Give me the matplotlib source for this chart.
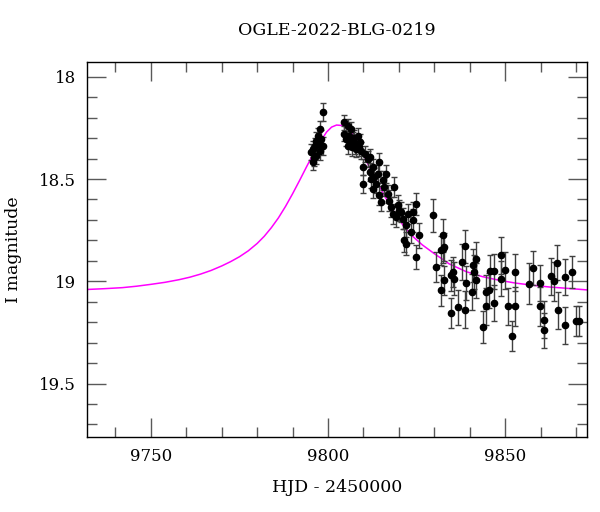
import matplotlib
matplotlib.use("Agg")
import matplotlib.pyplot as plt
from matplotlib.ticker import MultipleLocator

# observed photometry (HJD - 2450000, I mag, error)
hjd = [9798.5, 9797.6, 9797.1, 9796.7, 9796.2, 9795.7, 9795.3, 9795.7, 9798.5, 9798.1,
       9797.6, 9796.5, 9804.6, 9805.6, 9806.5, 9804.6, 9805.1, 9806.1, 9807.0, 9805.6,
       9807.5, 9808.4, 9808.9, 9807.9, 9809.4, 9810.3, 9809.8, 9809.8, 9811.2, 9811.7,
       9812.2, 9812.6, 9813.6, 9814.5, 9811.7, 9812.6, 9813.1, 9814.5, 9814.0, 9815.4,
       9816.4, 9815.9, 9815.0, 9816.8, 9817.3, 9818.7, 9817.8, 9818.3, 9819.7, 9820.1,
       9820.6, 9819.2, 9821.1, 9822.5, 9822.0, 9823.9, 9824.8, 9823.9, 9823.4, 9821.5,
       9822.0, 9825.8, 9824.8, 9829.5, 9831.9, 9832.3, 9830.5, 9832.8, 9832.3, 9831.9,
       9832.8, 9834.7, 9835.2, 9835.6, 9834.7, 9836.6, 9837.8, 9838.7, 9838.9, 9838.7,
       9840.8, 9841.3, 9841.7, 9840.6, 9841.7, 9843.8, 9844.7, 9844.7, 9845.5, 9845.8,
       9846.9, 9846.7, 9848.8, 9848.8, 9849.9, 9850.8, 9851.8, 9852.8, 9852.8, 9856.8,
       9857.7, 9859.9, 9859.9, 9860.8, 9860.8, 9862.9, 9863.8, 9864.7, 9864.9, 9866.8,
       9866.8, 9868.8, 9869.9, 9870.8, 9796.0, 9797.2, 9805.9, 9806.8, 9807.3, 9808.6]
mag = [18.171, 18.255, 18.288, 18.312, 18.337, 18.353, 18.369, 18.418, 18.337, 18.302,
       18.361, 18.385, 18.223, 18.239, 18.254, 18.278, 18.302, 18.320, 18.312, 18.337,
       18.337, 18.288, 18.320, 18.353, 18.361, 18.377, 18.442, 18.523, 18.401, 18.467,
       18.498, 18.548, 18.523, 18.580, 18.394, 18.442, 18.491, 18.418, 18.475, 18.507,
       18.475, 18.540, 18.613, 18.572, 18.605, 18.540, 18.638, 18.670, 18.629, 18.654,
       18.662, 18.686, 18.694, 18.670, 18.727, 18.662, 18.621, 18.702, 18.760, 18.800,
       18.816, 18.776, 18.881, 18.678, 18.849, 18.840, 18.930, 18.833, 18.776, 19.044,
       18.995, 18.971, 18.955, 18.987, 19.155, 19.128, 18.906, 18.829, 19.008, 19.138,
       18.922, 18.955, 18.995, 19.052, 18.889, 19.223, 19.052, 19.122, 19.044, 18.951,
       18.951, 19.106, 18.873, 18.987, 18.946, 19.122, 19.268, 18.955, 19.122, 19.011,
       18.935, 19.008, 19.122, 19.187, 19.239, 18.976, 19.000, 18.909, 19.141, 18.979,
       19.215, 18.955, 19.194, 19.194, 18.395, 18.330, 18.290, 18.345, 18.300, 18.345]
err = [0.045, 0.040, 0.040, 0.040, 0.040, 0.040, 0.040, 0.040, 0.045, 0.040,
       0.045, 0.040, 0.035, 0.035, 0.035, 0.035, 0.035, 0.035, 0.040, 0.040,
       0.040, 0.040, 0.040, 0.040, 0.040, 0.040, 0.040, 0.045, 0.040, 0.045,
       0.045, 0.045, 0.045, 0.045, 0.040, 0.040, 0.045, 0.045, 0.045, 0.045,
       0.045, 0.045, 0.045, 0.045, 0.050, 0.050, 0.050, 0.050, 0.050, 0.050,
       0.050, 0.050, 0.050, 0.050, 0.055, 0.050, 0.055, 0.055, 0.055, 0.055,
       0.055, 0.060, 0.060, 0.080, 0.070, 0.070, 0.075, 0.070, 0.080, 0.075,
       0.070, 0.075, 0.075, 0.080, 0.075, 0.085, 0.090, 0.080, 0.085, 0.090,
       0.080, 0.085, 0.085, 0.090, 0.080, 0.080, 0.085, 0.090, 0.085, 0.080,
       0.085, 0.090, 0.090, 0.085, 0.090, 0.090, 0.075, 0.090, 0.095, 0.100,
       0.085, 0.090, 0.095, 0.090, 0.085, 0.090, 0.095, 0.085, 0.090, 0.090,
       0.090, 0.080, 0.075, 0.075, 0.040, 0.040, 0.035, 0.040, 0.040, 0.040]

# model light curve
model_hjd = [9732.0, 9737.0, 9742.0, 9746.0, 9750.0, 9754.0, 9758.0, 9761.0, 9764.0,
             9767.0, 9770.0, 9772.5, 9775.0, 9777.5, 9780.0, 9782.0, 9784.0, 9786.0,
             9788.0, 9790.0, 9792.0, 9794.0, 9796.0, 9798.0, 9799.6, 9801.0, 9802.4,
             9803.8, 9805.2, 9806.6, 9808.0, 9809.8, 9811.7, 9814.0, 9816.5, 9818.8,
             9821.0, 9823.5, 9826.6, 9830.0, 9834.2, 9839.0, 9843.5, 9848.3, 9853.0,
             9857.6, 9862.5, 9867.2, 9873.0]
model_mag = [19.040, 19.036, 19.031, 19.024, 19.015, 19.005, 18.992, 18.980, 18.965,
             18.947, 18.925, 18.904, 18.880, 18.851, 18.815, 18.780, 18.738, 18.690,
             18.634, 18.572, 18.506, 18.438, 18.372, 18.312, 18.270, 18.246, 18.236,
             18.238, 18.249, 18.272, 18.310, 18.372, 18.444, 18.520, 18.600, 18.665,
             18.722, 18.774, 18.822, 18.865, 18.915, 18.953, 18.977, 18.995, 19.009,
             19.019, 19.028, 19.034, 19.042]

plt.rcParams['font.family'] = ['DejaVu Serif']

fig = plt.figure(figsize=(6.0, 5.12), dpi=100)
ax = fig.add_axes([0.145, 0.147, 0.833, 0.731])

ax.plot(model_hjd, model_mag, color='#ff00ff', lw=1.1, zorder=1)
ax.errorbar(hjd, mag, yerr=err, fmt='o', color='black', ms=4.5,
            ecolor='0.25', elinewidth=1.0, capsize=2.5, capthick=1.0, zorder=2)

ax.set_xlim(9732, 9873)
ax.set_ylim(19.76, 17.93)
ax.xaxis.set_major_locator(MultipleLocator(50))
ax.xaxis.set_minor_locator(MultipleLocator(10))
ax.yaxis.set_major_locator(MultipleLocator(0.5))
ax.yaxis.set_minor_locator(MultipleLocator(0.1))
ax.yaxis.set_major_formatter(plt.FuncFormatter(lambda v, p: f"{v:g}"))

ax.tick_params(which='both', direction='in', top=True, right=True,
               color='0.35', width=1.0, labelsize=12)
ax.tick_params(which='major', length=13.5, pad=8)
ax.tick_params(which='minor', length=7)
for s in ax.spines.values():
    s.set_linewidth(1.0)

ax.set_title("OGLE-2022-BLG-0219", fontsize=12.5, pad=20)
ax.set_xlabel("HJD - 2450000", fontsize=12.5, labelpad=10)
ax.set_ylabel("I magnitude", fontsize=12.5, labelpad=12)

fig.savefig("out.png", dpi=100)
